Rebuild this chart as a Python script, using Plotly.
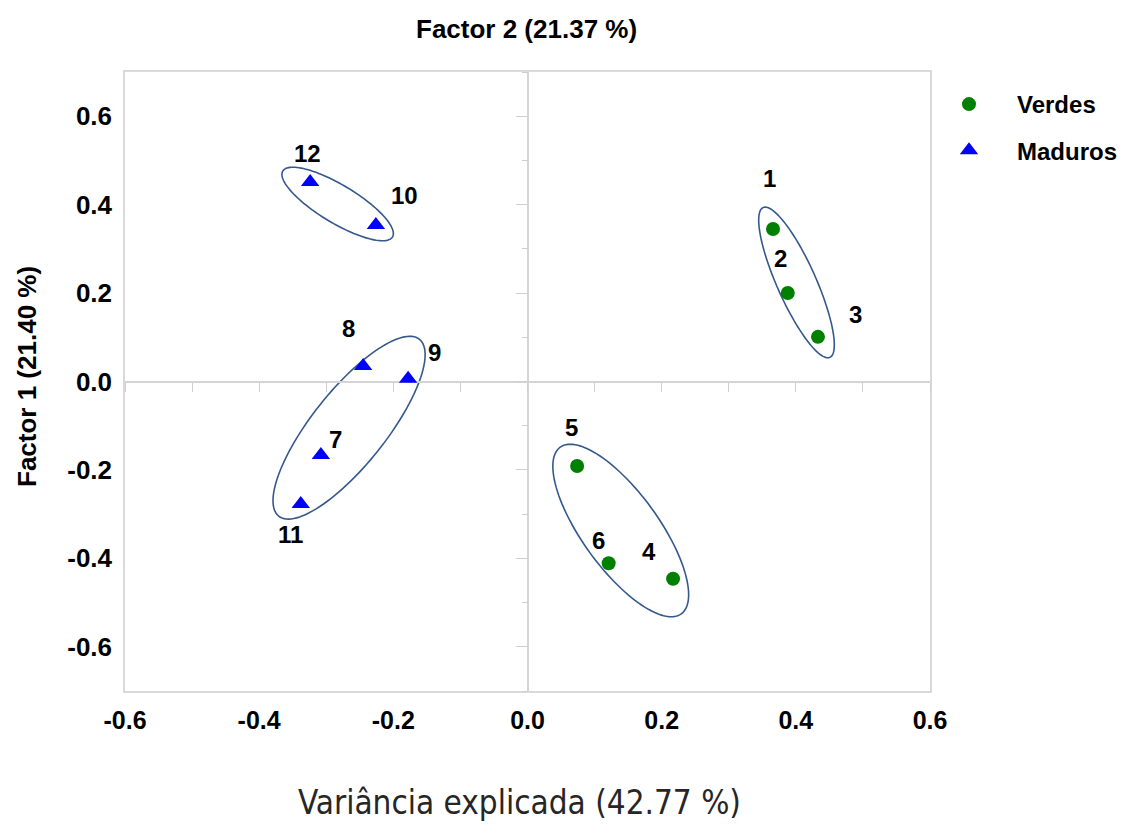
import numpy as np
import plotly.graph_objects as go

# ---- data ----
verdes_ids = ["1", "2", "3", "4", "5", "6"]
verdes_x = [0.366, 0.388, 0.433, 0.217, 0.074, 0.121]
verdes_y = [0.345, 0.200, 0.101, -0.446, -0.191, -0.411]

maduros_ids = ["7", "8", "9", "10", "11", "12"]
maduros_x = [-0.308, -0.245, -0.178, -0.226, -0.338, -0.324]
maduros_y = [-0.166, 0.035, 0.006, 0.354, -0.277, 0.451]

tick_vals = [-0.6, -0.4, -0.2, 0.0, 0.2, 0.4, 0.6]
tick_text = ["-0.6", "-0.4", "-0.2", "0.0", "0.2", "0.4", "0.6"]

# ellipse groups: centre (data), semi-axes (px), rotation (deg, screen, ccw)
ellipse_cx = [-0.283, 0.401, -0.266, 0.139]
ellipse_cy = [0.4015, 0.224, -0.1045, -0.337]
ellipse_a = [64, 82, 113, 103]
ellipse_b = [19, 19.5, 37, 38]
ellipse_ang = [-31, -66, 51.5, -54]

# label offsets in px (styling)
verdes_off = [(-4, 50), (-7, 35), (38, 22), (-24, 27), (-6, 38), (-10, 23)]
maduros_off = [(15, 15), (-15, 38), (26, 26), (29, 29), (-10, -31), (-3, 29)]

# ---- layout geometry ----
W, H = 1123, 825
ML, MR, MT, MB = 125, 193, 72, 134
XR = [-0.6, 0.6]
YR = [-0.7, 0.7]
pw, ph = W - ML - MR, H - MT - MB
sx = pw / (XR[1] - XR[0])
sy = ph / (YR[1] - YR[0])

BOLD = "Liberation Sans"

fig = go.Figure()
fig.add_trace(go.Scatter(
    x=verdes_x, y=verdes_y, mode="markers", name="<b>Verdes</b>",
    marker=dict(symbol="circle", size=14, color="#008000"),
    legendgroup="v",
))
fig.add_trace(go.Scatter(
    x=maduros_x, y=maduros_y, mode="markers", name="<b>Maduros</b>",
    marker=dict(symbol="triangle-up", size=16, color="#0000ff"),
    legendgroup="m",
))
# dummy trace for the zero-line tick axes
fig.add_trace(go.Scatter(x=[], y=[], xaxis="x2", yaxis="y2", showlegend=False,
                         hoverinfo="skip"))

# ellipses
t = np.linspace(0, 2 * np.pi, 121)
for cx, cy, a, b, ang in zip(ellipse_cx, ellipse_cy, ellipse_a, ellipse_b, ellipse_ang):
    th = np.deg2rad(ang)
    dx = a * np.cos(t) * np.cos(th) - b * np.sin(t) * np.sin(th)
    dy = a * np.cos(t) * np.sin(th) + b * np.sin(t) * np.cos(th)
    xs = cx + dx / sx
    ys = cy + dy / sy
    path = "M " + " L ".join(f"{x:.5f},{y:.5f}" for x, y in zip(xs, ys)) + " Z"
    fig.add_shape(type="path", path=path, xref="x", yref="y",
                  line=dict(color="#35598c", width=1.6), layer="below")

# point labels
for ids, xs, ys, offs in [(verdes_ids, verdes_x, verdes_y, verdes_off),
                          (maduros_ids, maduros_x, maduros_y, maduros_off)]:
    for lab, x, y, (ox, oy) in zip(ids, xs, ys, offs):
        fig.add_annotation(x=x, y=y, text=f"<b>{lab}</b>", showarrow=False,
                           xshift=ox, yshift=oy, xanchor="center", yanchor="middle",
                           font=dict(family=BOLD, size=24, color="#000000"))

# titles
fig.add_annotation(xref="paper", yref="paper", x=(526 - ML) / pw, y=1 + (MT - 29) / ph,
                   xanchor="center", yanchor="middle",
                   text="<b>Factor 2 (21.37 %)</b>", showarrow=False,
                   font=dict(family=BOLD, size=26, color="#000000"))
fig.add_annotation(xref="paper", yref="paper", x=(27 - ML) / pw, y=(H - MB - 377) / ph,
                   xanchor="center", yanchor="middle",
                   text="<b>Factor 1 (21.40 %)</b>", showarrow=False, textangle=-90,
                   font=dict(family=BOLD, size=26, color="#000000"))
fig.add_annotation(xref="paper", yref="paper", x=(519 - ML) / pw, y=(H - MB - 802) / ph,
                   xanchor="center", yanchor="middle",
                   text="Variância explicada (42.77 %)", showarrow=False,
                   font=dict(family="Liberation Sans Narrow, DejaVu Sans Condensed, Open Sans",
                             size=33, color="#262626"))

fig.update_layout(
    width=W, height=H,
    margin=dict(l=ML, r=MR, t=MT, b=MB, autoexpand=False),
    paper_bgcolor="white", plot_bgcolor="white",
    showlegend=True,
    legend=dict(x=(921 - ML) / pw, y=1 - (82 - MT) / ph, xanchor="left", yanchor="top",
                itemwidth=86, tracegroupgap=12, traceorder="grouped",
                font=dict(family=BOLD, size=24, color="#000000"),
                bgcolor="rgba(0,0,0,0)"),
    xaxis=dict(range=XR, tickvals=tick_vals, ticktext=[f"<b>{s}</b>" for s in tick_text],
               tickfont=dict(family=BOLD, size=25, color="#000000"),
               showgrid=False, zeroline=True, zerolinecolor="#d4d4d4", zerolinewidth=1.5,
               showline=True, linecolor="#d9d9d9", linewidth=1.5, mirror=True, ticks="",
               ticklabelstandoff=6, fixedrange=True),
    yaxis=dict(range=YR, tickvals=tick_vals, ticktext=[f"<b>{s}</b>" for s in tick_text],
               tickfont=dict(family=BOLD, size=26, color="#000000"),
               showgrid=False, zeroline=True, zerolinecolor="#d4d4d4", zerolinewidth=1.5,
               showline=True, linecolor="#d9d9d9", linewidth=1.5, mirror=True, ticks="",
               ticklabelstandoff=6, fixedrange=True),
    xaxis2=dict(range=XR, overlaying="x", anchor="free", position=0.5, side="bottom",
                showgrid=False, zeroline=False, showline=False, showticklabels=False,
                ticks="outside", dtick=0.1, tick0=0, ticklen=9, tickcolor="#cfcfcf",
                tickwidth=1.2, fixedrange=True),
    yaxis2=dict(range=YR, overlaying="y", anchor="free", position=0.5, side="left",
                showgrid=False, zeroline=False, showline=False, showticklabels=False,
                ticks="outside", dtick=0.2, tick0=0, ticklen=12, tickcolor="#cfcfcf",
                tickwidth=1.2,
                minor=dict(dtick=0.1, tick0=0, ticks="outside", ticklen=6,
                           tickcolor="#cfcfcf", tickwidth=1.2),
                fixedrange=True),
)

fig.write_html("out.html")
